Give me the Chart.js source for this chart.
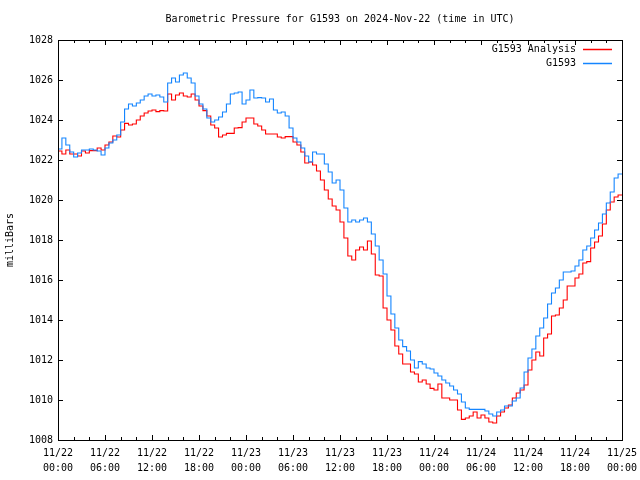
<!DOCTYPE html>
<html>
<head>
<meta charset="utf-8">
<script src="https://cdn.jsdelivr.net/npm/chart.js@4/dist/chart.umd.min.js"></script>
<style>
  html, body { margin: 0; padding: 0; background: #fff; }
</style>
</head>
<body>
<canvas id="chartPressure" width="640" height="480"></canvas>
<script>
// half-hourly readings from 2024-11-22 00:00 UTC
const analysis = [
  1022.33, 1022.45, 1022.3, 1022.5, 1022.3, 1022.3, 1022.2, 1022.45, 1022.35, 1022.47,
  1022.47, 1022.6, 1022.5, 1022.75, 1022.9, 1023.2, 1023.15, 1023.5, 1023.83, 1023.75,
  1023.8, 1024.0, 1024.2, 1024.35, 1024.45, 1024.5, 1024.42, 1024.47, 1024.45, 1025.3,
  1025.0, 1025.25, 1025.35, 1025.2, 1025.15, 1025.3, 1025.0, 1024.7, 1024.47, 1024.2,
  1023.75, 1023.6, 1023.15, 1023.25, 1023.33, 1023.33, 1023.6, 1023.62, 1023.9, 1024.1,
  1024.1, 1023.8, 1023.7, 1023.5, 1023.3, 1023.3, 1023.3, 1023.15, 1023.1, 1023.17,
  1023.17, 1022.9, 1022.75, 1022.4, 1021.85, 1021.9, 1021.75, 1021.45, 1021.0, 1020.5,
  1020.05, 1019.7, 1019.5, 1018.9, 1018.1, 1017.2, 1017.0, 1017.5, 1017.65, 1017.5,
  1017.95, 1017.3, 1016.25, 1016.2, 1014.6, 1014.0, 1013.5, 1012.7, 1012.3, 1011.8,
  1011.8, 1011.4, 1011.3, 1010.9, 1011.0, 1010.8, 1010.58, 1010.5, 1010.8, 1010.1,
  1010.1, 1010.0, 1010.0, 1009.5, 1009.03, 1009.1, 1009.2, 1009.4, 1009.1, 1009.25,
  1009.1, 1008.9, 1008.85, 1009.2, 1009.4, 1009.6, 1009.75, 1010.1, 1010.35, 1010.5,
  1010.75, 1011.5, 1012.0, 1012.4, 1012.2, 1013.1, 1013.3, 1014.2, 1014.25, 1014.6,
  1015.0, 1015.7, 1015.7, 1016.1, 1016.3, 1016.85, 1016.92, 1017.6, 1017.9, 1018.2,
  1018.8, 1019.5, 1019.9, 1020.15, 1020.25
];

const observed = [
  1022.7, 1022.55, 1023.1, 1022.75, 1022.4, 1022.15, 1022.35, 1022.5, 1022.5, 1022.55,
  1022.5, 1022.45, 1022.25, 1022.6, 1022.85, 1023.0, 1023.25, 1023.9, 1024.55, 1024.8,
  1024.7, 1024.85, 1025.0, 1025.2, 1025.3, 1025.2, 1025.25, 1025.15, 1024.9, 1025.85,
  1026.1, 1025.9, 1026.25, 1026.35, 1026.1, 1025.85, 1025.2, 1024.8, 1024.55, 1024.1,
  1023.9, 1024.0, 1024.15, 1024.4, 1024.8, 1025.3, 1025.35, 1025.4, 1024.8, 1025.0,
  1025.5, 1025.1, 1025.12, 1025.1, 1024.9, 1025.05, 1024.5, 1024.35, 1024.4, 1024.2,
  1023.6, 1023.1, 1022.9, 1022.6, 1022.2, 1021.9, 1022.4, 1022.3, 1022.3, 1021.8,
  1021.4, 1020.85, 1021.0, 1020.5, 1019.6, 1018.9, 1019.0, 1018.9, 1019.0, 1019.1,
  1018.9, 1018.3, 1017.7, 1017.0, 1016.3, 1015.2, 1014.3, 1013.6, 1013.0, 1012.67,
  1012.45, 1012.0, 1011.6, 1011.92, 1011.8, 1011.6, 1011.55, 1011.35, 1011.2, 1011.0,
  1010.85, 1010.7, 1010.5, 1010.3, 1009.9, 1009.6, 1009.53, 1009.53, 1009.53, 1009.53,
  1009.45, 1009.3, 1009.2, 1009.4, 1009.5, 1009.7, 1009.7, 1009.95, 1010.1, 1010.6,
  1011.4, 1012.1, 1012.55, 1013.2, 1013.6, 1014.1, 1014.8, 1015.35, 1015.6, 1016.0,
  1016.4, 1016.4, 1016.45, 1016.7, 1017.0, 1017.5, 1017.7, 1018.1, 1018.5, 1018.85,
  1019.3, 1019.85, 1020.4, 1021.1, 1021.3
];

const hours = observed.map((_, i) => i * 0.5);

const tickLabels = [
  ['11/22', '00:00'], ['11/22', '06:00'], ['11/22', '12:00'], ['11/22', '18:00'],
  ['11/23', '00:00'], ['11/23', '06:00'], ['11/23', '12:00'], ['11/23', '18:00'],
  ['11/24', '00:00'], ['11/24', '06:00'], ['11/24', '12:00'], ['11/24', '18:00'],
  ['11/25', '00:00']
];

const titleText = 'Barometric Pressure for G1593 on 2024-Nov-22 (time in UTC)';
const FONT = '"DejaVu Sans Mono", "Liberation Mono", monospace';

// gnuplot style frame with inward ticks, title and legend
const gnuplotDecor = {
  id: 'gnuplotDecor',
  afterDatasetsDraw(chart) {
    const { ctx, chartArea: a, scales } = chart;
    ctx.save();
    ctx.strokeStyle = '#000';
    ctx.lineWidth = 1;
    ctx.beginPath();
    for (let h = 0; h <= 72; h += 2) {
      const x = Math.round(scales.x.getPixelForValue(h)) + 0.5;
      const len = h % 6 === 0 ? 5 : 3;
      ctx.moveTo(x, a.bottom); ctx.lineTo(x, a.bottom - len);
      ctx.moveTo(x, a.top); ctx.lineTo(x, a.top + len);
    }
    scales.y.ticks.forEach(t => {
      const y = Math.round(scales.y.getPixelForValue(t.value)) + 0.5;
      ctx.moveTo(a.left, y); ctx.lineTo(a.left + 5, y);
      ctx.moveTo(a.right, y); ctx.lineTo(a.right - 5, y);
    });
    ctx.stroke();
    ctx.strokeRect(Math.round(a.left) + 0.5, Math.round(a.top) + 0.5,
      Math.round(a.right - a.left), Math.round(a.bottom - a.top));

    ctx.fillStyle = '#000';
    ctx.font = '10px ' + FONT;
    ctx.textAlign = 'center';
    ctx.textBaseline = 'middle';
    ctx.fillText(titleText, (a.left + a.right) / 2, 19);

    // legend, top right inside the plot
    const items = [chart.data.datasets[1], chart.data.datasets[0]];
    ctx.textAlign = 'right';
    items.forEach((ds, i) => {
      const y = 49 + i * 14;
      ctx.fillStyle = '#000';
      ctx.fillText(ds.label, 576, y);
      ctx.strokeStyle = ds.borderColor;
      ctx.lineWidth = 1.5;
      ctx.beginPath();
      ctx.moveTo(583, y + 0.5);
      ctx.lineTo(612, y + 0.5);
      ctx.stroke();
    });
    ctx.restore();
  }
};

const context = document.getElementById('chartPressure').getContext('2d');
const chart = new Chart(context, {
  type: 'line',
  data: {
    labels: hours,
    datasets: [{
      label: 'G1593',
      data: observed,
      borderColor: '#1485ff',
      borderWidth: 1.1,
      pointRadius: 0,
      stepped: 'after',
      fill: false,
      order: 0
    }, {
      label: 'G1593 Analysis',
      data: analysis,
      borderColor: '#ff0000',
      borderWidth: 1.1,
      pointRadius: 0,
      stepped: 'after',
      fill: false,
      order: 1
    }]
  },
  options: {
    responsive: false,
    animation: false,
    devicePixelRatio: 1,
    layout: { padding: { left: 0, right: 18, top: 40, bottom: 0 } },
    plugins: {
      legend: { display: false },
      title: { display: false },
      tooltip: { enabled: false }
    },
    scales: {
      x: {
        type: 'linear',
        min: 0,
        max: 72,
        grid: { display: false },
        border: { display: false },
        afterFit: scale => { scale.height = 40; },
        ticks: {
          stepSize: 6,
          padding: -2,
          maxRotation: 0,
          autoSkip: false,
          color: '#000',
          font: { family: FONT, size: 10, lineHeight: 1.5 },
          callback: value => tickLabels[value / 6]
        }
      },
      y: {
        min: 1008,
        max: 1028,
        grid: { display: false },
        border: { display: false },
        afterFit: scale => { scale.width = 58; },
        title: {
          display: true,
          text: 'milliBars',
          color: '#000',
          font: { family: FONT, size: 10 }
        },
        ticks: {
          stepSize: 2,
          padding: -3,
          color: '#000',
          font: { family: FONT, size: 10 },
          callback: value => String(value)
        }
      }
    }
  },
  plugins: [gnuplotDecor]
});
</script>
</body>
</html>
